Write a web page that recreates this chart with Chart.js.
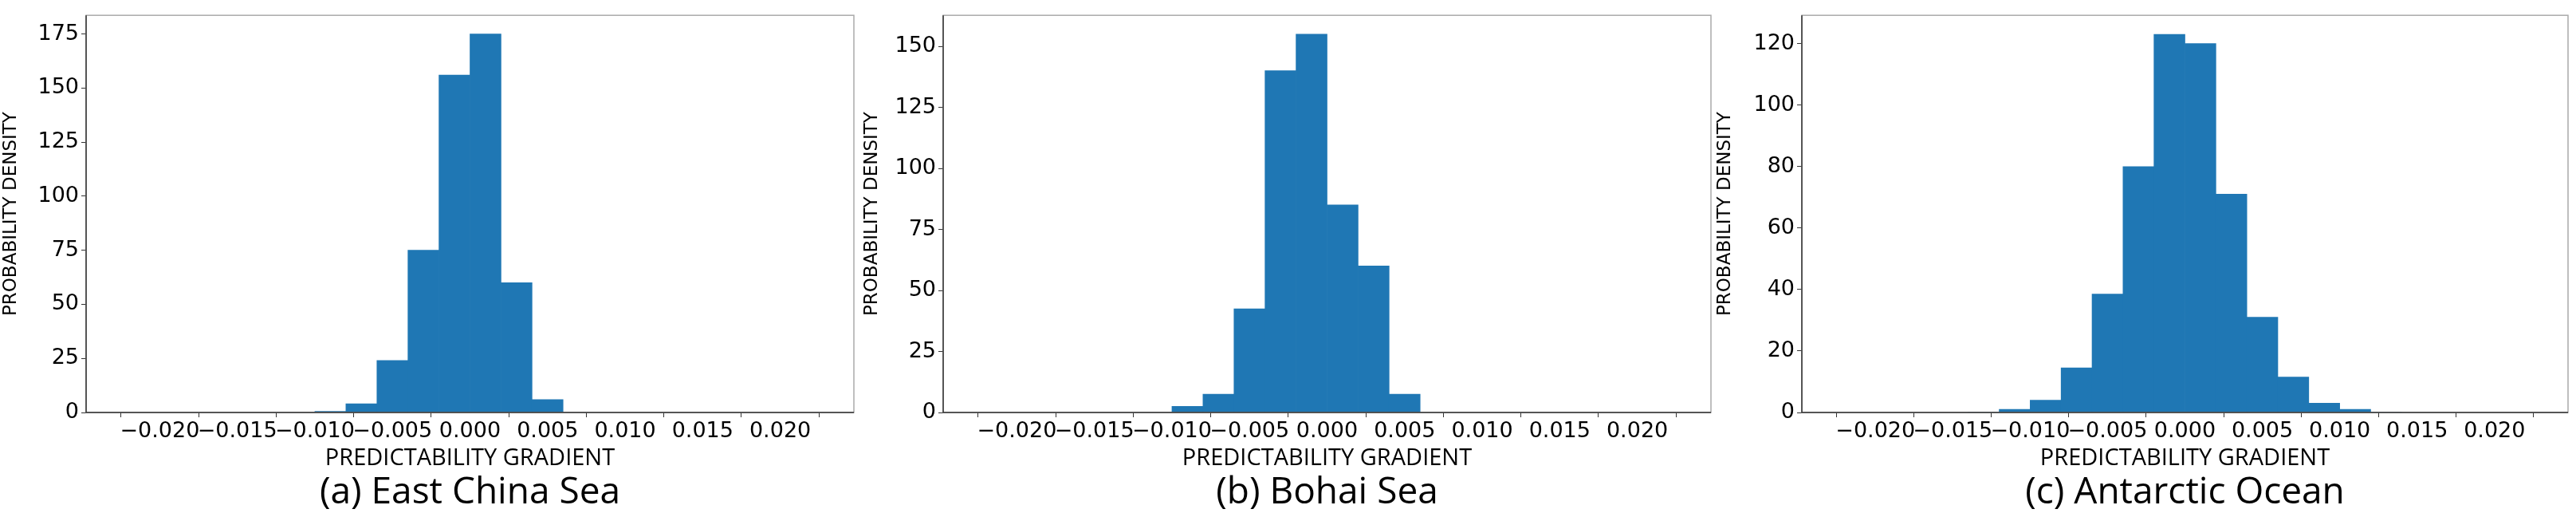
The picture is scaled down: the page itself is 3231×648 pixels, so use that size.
<!DOCTYPE html>
<html>
<head>
<meta charset="utf-8">
<script src="https://cdn.jsdelivr.net/npm/chart.js@4/dist/chart.umd.min.js"></script>
<style>
  body { margin: 0; background: #fff; width: 3231px; height: 648px; position: relative; overflow: hidden; }
  .panel { position: absolute; top: 0; height: 648px; }
  .panel canvas { position: absolute; left: 0; top: 0; }
  .xt { position: absolute; top: 552px; font: 29px "Open Sans", sans-serif; color: #000; text-align: center; white-space: nowrap; }
  .cap { position: absolute; top: 582px; font: 46px "Open Sans", sans-serif; color: #000; text-align: center; white-space: nowrap; }
</style>
</head>
<body>
<script>
// bin centres (width 0.002)
const centresA = [-0.009, -0.007, -0.005, -0.003, -0.001, 0.001, 0.003, 0.005];
const densityA = [0.5, 4, 24, 75, 156, 175, 60, 6];

const centresB = [-0.009, -0.007, -0.005, -0.003, -0.001, 0.001, 0.003, 0.005];
const densityB = [2.5, 7.5, 42.5, 140, 155, 85, 60, 7.5];

const centresC = [-0.013, -0.011, -0.009, -0.007, -0.005, -0.003, -0.001, 0.001, 0.003, 0.005, 0.007, 0.009, 0.011, 0.013];
const densityC = [0.2, 1, 4, 14.5, 38.5, 80, 123, 120, 71, 31, 11.5, 3, 1, 0.2];

const xTicks = [-0.020, -0.015, -0.010, -0.005, 0.000, 0.005, 0.010, 0.015, 0.020];
const yTicksA = [0, 25, 50, 75, 100, 125, 150, 175];
const yTicksB = [0, 25, 50, 75, 100, 125, 150];
const yTicksC = [0, 20, 40, 60, 80, 100, 120];
const captions = ['(a) East China Sea', '(b) Bohai Sea', '(c) Antarctic Ocean'];

const panels = [
  { left: 0,    width: 1080, axisW: 108, padR: 9,  ymax: 183.6, yt: yTicksA, xs: centresA, ys: densityA },
  { left: 1080, width: 1080, axisW: 103, padR: 14, ymax: 162.7, yt: yTicksB, xs: centresB, ys: densityB },
  { left: 2150, width: 1081, axisW: 110, padR: 10, ymax: 129.2, yt: yTicksC, xs: centresC, ys: densityC },
];

/* ── spines around plot area ─────────────────────────────── */
const boxPlugin = {
  id: 'box',
  afterDraw(chart) {
    const { ctx, chartArea: a } = chart;
    ctx.save();
    ctx.strokeStyle = '#aaa';
    ctx.lineWidth = 1.5;
    ctx.strokeRect(a.left, a.top, a.right - a.left, a.bottom - a.top);
    ctx.strokeStyle = '#333';
    ctx.beginPath();
    ctx.moveTo(a.left, a.top); ctx.lineTo(a.left, a.bottom); ctx.lineTo(a.right, a.bottom);
    ctx.stroke();
    ctx.restore();
  }
};

const fmt = v => (v < 0 ? '\u2212' : '') + Math.abs(v).toFixed(3);

panels.forEach((p, i) => {
  const div = document.createElement('div');
  div.className = 'panel';
  div.style.left = p.left + 'px';
  div.style.width = p.width + 'px';
  const cv = document.createElement('canvas');
  cv.width = p.width; cv.height = 560;
  div.appendChild(cv);
  document.body.appendChild(div);

  const plotL = p.axisW, plotR = p.width - p.padR;
  const xt = document.createElement('div');
  xt.className = 'xt';
  xt.textContent = 'PREDICTABILITY GRADIENT';
  xt.style.left = plotL + 'px'; xt.style.width = (plotR - plotL) + 'px';
  div.appendChild(xt);
  const cap = document.createElement('div');
  cap.className = 'cap';
  cap.textContent = captions[i];
  cap.style.left = plotL + 'px'; cap.style.width = (plotR - plotL) + 'px';
  div.appendChild(cap);

  new Chart(cv, {
    type: 'bar',
    data: {
      datasets: [{
        data: p.xs.map((x, k) => ({ x, y: p.ys[k] })),
        backgroundColor: '#1f77b4',
        borderWidth: 0,
        barPercentage: 1,
        categoryPercentage: 1,
      }],
    },
    options: {
      responsive: false,
      animation: false,
      devicePixelRatio: 1,
      layout: { padding: { top: 18, right: p.padR, left: 0, bottom: 0 } },
      plugins: { legend: { display: false }, tooltip: { enabled: false } },
      scales: {
        x: {
          type: 'linear',
          min: -0.022, max: 0.022,
          afterBuildTicks: s => { s.ticks = xTicks.map(v => ({ value: v })); },
          afterFit: s => { s.height = 43; },
          grid: { drawOnChartArea: false, drawTicks: true, tickLength: 6, color: '#333' },
          border: { display: false },
          ticks: { color: '#000', font: { family: 'DejaVu Sans', size: 27 }, padding: 2, maxRotation: 0, autoSkip: false, callback: fmt },
        },
        y: {
          min: 0, max: p.ymax,
          afterBuildTicks: s => { s.ticks = p.yt.map(v => ({ value: v })); },
          afterFit: s => { s.width = p.axisW; },
          grid: { drawOnChartArea: false, drawTicks: true, tickLength: 6, color: '#333' },
          border: { display: false },
          title: { display: true, text: 'PROBABILITY DENSITY', color: '#000', font: { family: 'DejaVu Sans', size: 23 }, padding: { top: 0, bottom: 0 } },
          ticks: { color: '#000', font: { family: 'DejaVu Sans', size: 27 }, padding: 3 },
        },
      },
    },
    plugins: [boxPlugin],
  });
});
</script>
</body>
</html>
